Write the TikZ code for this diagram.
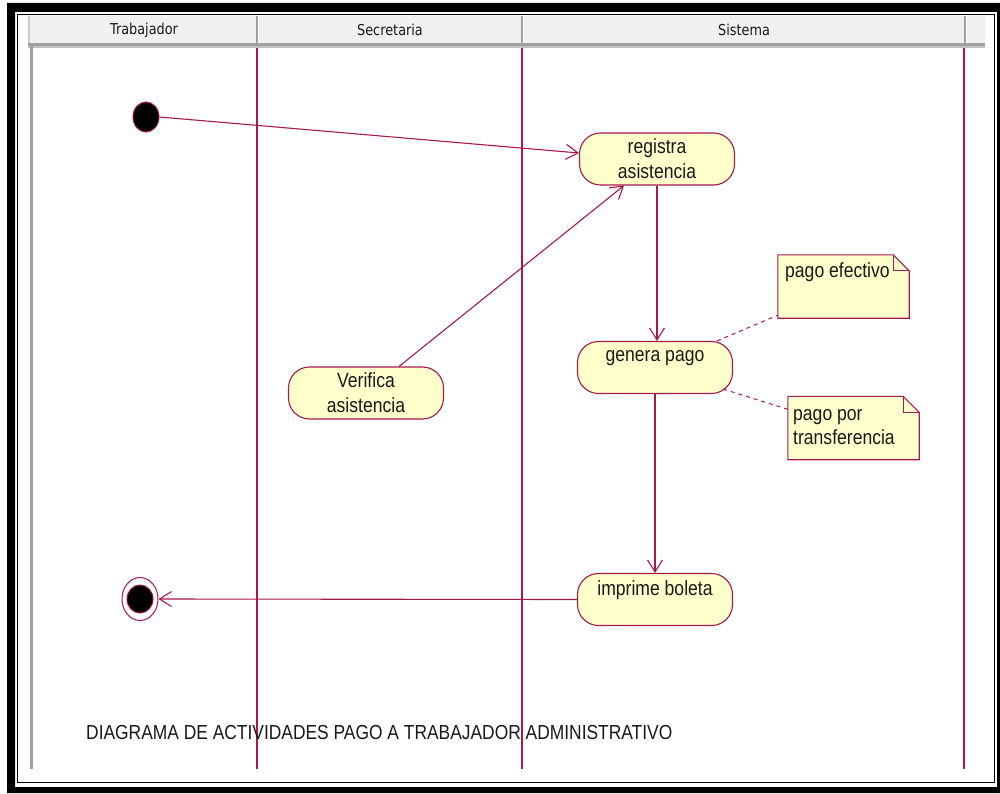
\documentclass[tikz,border=0pt]{standalone}
\usepackage{fontspec}
\usetikzlibrary{arrows.meta,shapes.geometric}
\newfontfamily\labelfont[FakeStretch=0.857]{Liberation Sans}
\newfontfamily\headfont[FakeStretch=0.857]{DejaVu Sans}
\definecolor{rosered}{RGB}{165,25,75}
\definecolor{notefill}{RGB}{255,255,204}
\definecolor{headgray}{RGB}{240,240,240}
\definecolor{rulegray}{RGB}{160,160,160}

\tikzset{
  lbl/.style={font=\labelfont\fontsize{20.5}{24}\selectfont, text=black!90},
  activity/.style={lbl, draw=rosered, fill=notefill, line width=1.1pt,
    rounded corners=21pt, minimum width=155pt, minimum height=52pt,
    inner sep=0pt, align=center},
  notebox/.style={lbl, minimum width=131pt, minimum height=63pt,
    text width=121pt, inner sep=0pt, align=left},
  flow/.style={draw=rosered, line width=1.1pt,
    -{Straight Barb[length=12pt,width=15pt,line width=1.1pt]}},
  anchorline/.style={draw=rosered, line width=1pt, dash pattern=on 4pt off 4pt},
  lane/.style={draw=rosered, line width=1.1pt},
  headtext/.style={font=\headfont\fontsize{15}{18}\selectfont, text=black!90},
}

% note with a folded top-right corner, drawn round a named node
\newcommand\dogear[1]{%
  \filldraw[draw=rosered, fill=notefill, line width=1.1pt]
    (#1.north west) -- ([xshift=-16pt]#1.north east)
    -- ([yshift=-16pt]#1.north east) -- (#1.south east)
    -- (#1.south west) -- cycle;
  \draw[rosered, line width=1.1pt]
    ([xshift=-16pt]#1.north east) -- ([xshift=-16pt,yshift=-16pt]#1.north east)
    -- ([yshift=-16pt]#1.north east);
}

\begin{document}
\begin{tikzpicture}[x=1pt, y=-1pt]
\useasboundingbox (0,0) rectangle (1000,794);
\fill[white] (0,0) rectangle (1000,794);

% double frame
\fill[black, even odd rule] (7,3) rectangle (1003,793) (15,12) rectangle (997,787);
\draw[black, line width=1.5pt] (17.5,14.5) rectangle (994.5,782.5);

% swimlane header
\fill[headgray] (28,16) rectangle (985,43);
\fill[rulegray] (28,43) rectangle (985,46);
\fill[black!25] (28,46) rectangle (985,48);
\fill[black!20] (28,16) rectangle (30,43);
\fill[rulegray] (30,43) rectangle (33,769);
\foreach \xx in {257,522,965} {
  \draw[rulegray, line width=2pt] (\xx,16) -- (\xx,43);
  \draw[white, line width=1pt] (\xx+1.5,16) -- (\xx+1.5,43);
}
\node[headtext] (h1) at (144,30) {Trabajador};
\node[headtext] (h2) at (390,30) {Secretaria};
\node[headtext] (h3) at (744,30) {Sistema};

% lane separators
\foreach \xx in {257,522,964} {
  \draw[lane] (\xx,48) -- (\xx,769);
}

% initial and final states
\node[ellipse, draw=rosered, fill=black, line width=1pt,
      minimum width=26pt, minimum height=30pt, inner sep=0pt] (start) at (146,117) {};
\node[ellipse, draw=rosered, line width=1pt,
      minimum width=36pt, minimum height=43pt, inner sep=0pt] (end) at (140,599) {};
\node[ellipse, draw=rosered, fill=black, line width=1pt,
      minimum width=26pt, minimum height=28pt, inner sep=0pt] (endcore) at (140,599) {};

% activities
\node[activity] (reg) at (657,159) {registra\\[1pt]asistencia};
\node[activity] (ver) at (366,393) {Verifica\\[1pt]asistencia};
\node[activity] (gen) at (655,367.5) {genera pago\\[-8pt]\strut};
\node[activity] (imp) at (655,599.5) {imprime boleta\\[-8pt]\strut};

% notes
\node[notebox] (n1) at (843.5,286.5) {};
\dogear{n1}
\node[lbl, anchor=west, inner sep=0pt] (n1t) at (785,272) {pago efectivo};
\node[notebox] (n2) at (853.5,428) {};
\dogear{n2}
\node[lbl, anchor=west, inner sep=0pt, align=left] (n2t) at (793,427) {pago por\\transferencia};

% transitions
\draw[flow] (start.east) -- ([yshift=6pt]reg.west);
\draw[flow] ([xshift=33pt]ver.north) -- ([xshift=-33pt]reg.south);
\draw[flow] (reg.south) -- (reg.south |- gen.north);
\draw[flow] (gen.south) -- (gen.south |- imp.north);
\draw[flow] (imp.west) -- (end.east);

% note anchors
\draw[anchorline] ([xshift=62pt]gen.north) -- ([yshift=3pt]n1.south west);
\draw[anchorline] ([xshift=-10pt,yshift=5pt]gen.south east) -- ([yshift=-13pt]n2.north west);

% caption
\node[lbl, anchor=west, inner sep=0pt] (title) at (86,733)
  {\fontsize{20.3}{24}\selectfont DIAGRAMA DE ACTIVIDADES PAGO A TRABAJADOR ADMINISTRATIVO};
\end{tikzpicture}
\end{document}
